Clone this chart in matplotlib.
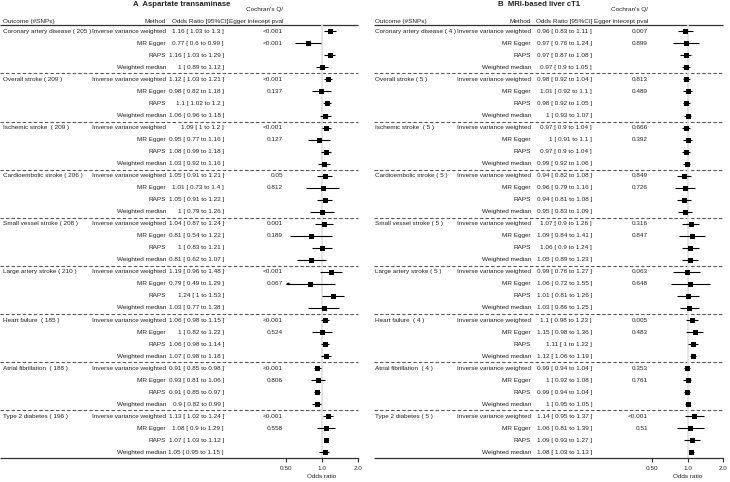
import matplotlib
matplotlib.use("Agg")
import matplotlib.pyplot as plt
import numpy as np

plt.rcParams['font.family'] = ['Liberation Sans', 'DejaVu Sans']

# ---- data ----
outcomes = ['Coronary artery disease', 'Overall stroke', 'Ischemic stroke ',
            'Cardioembolic stroke', 'Small vessel stroke', 'Large artery stroke',
            'Heart failure ', 'Atrial fibrillation ', 'Type 2 diabetes']
methods = ['Inverse variance weighted', 'MR Egger', 'RAPS', 'Weighted median']

titles = ['A  Aspartate transaminase', 'B  MRI-based liver cT1']

snps_a = [205, 209, 209, 206, 208, 210, 185, 188, 196]
or_a = [[1.16, 0.77, 1.16, 1], [1.12, 0.98, 1.1, 1.06], [1.09, 0.95, 1.08, 1.03],
        [1.05, 1.01, 1.05, 1], [1.04, 0.81, 1, 0.81], [1.19, 0.79, 1.24, 1.03],
        [1.06, 1, 1.06, 1.07], [0.91, 0.93, 0.91, 0.9], [1.13, 1.08, 1.07, 1.05]]
lo_a = [[1.03, 0.6, 1.03, 0.89], [1.03, 0.82, 1.02, 0.96], [1, 0.77, 0.99, 0.92],
        [0.91, 0.73, 0.91, 0.79], [0.87, 0.54, 0.83, 0.62], [0.96, 0.49, 1, 0.77],
        [0.98, 0.82, 0.98, 0.98], [0.85, 0.81, 0.85, 0.82], [1.02, 0.9, 1.03, 0.95]]
hi_a = [[1.3, 0.99, 1.29, 1.12], [1.21, 1.18, 1.2, 1.18], [1.2, 1.16, 1.18, 1.16],
        [1.21, 1.4, 1.22, 1.26], [1.24, 1.22, 1.21, 1.07], [1.48, 1.29, 1.53, 1.38],
        [1.15, 1.22, 1.14, 1.18], [0.98, 1.06, 0.97, 0.99], [1.24, 1.29, 1.12, 1.15]]
p_a = [['<0.001', '<0.001'], ['<0.001', '0.137'], ['<0.001', '0.127'],
       ['0.05', '0.812'], ['0.001', '0.189'], ['<0.001', '0.067'],
       ['<0.001', '0.524'], ['<0.001', '0.806'], ['<0.001', '0.558']]

snps_b = [4, 5, 5, 5, 5, 5, 4, 4, 5]
or_b = [[0.96, 0.97, 0.97, 0.97], [0.98, 1.01, 0.98, 1], [0.97, 1, 0.97, 0.99],
        [0.94, 0.96, 0.94, 0.95], [1.07, 1.09, 1.06, 1.05], [0.99, 1.06, 1.01, 1.03],
        [1.1, 1.15, 1.11, 1.12], [0.99, 1, 0.99, 1], [1.14, 1.06, 1.09, 1.08]]
lo_b = [[0.83, 0.76, 0.87, 0.9], [0.92, 0.92, 0.92, 0.93], [0.9, 0.91, 0.9, 0.92],
        [0.82, 0.79, 0.81, 0.83], [0.9, 0.84, 0.9, 0.89], [0.76, 0.72, 0.81, 0.86],
        [0.98, 0.98, 1, 1.06], [0.94, 0.92, 0.94, 0.95], [0.95, 0.81, 0.93, 1.03]]
hi_b = [[1.11, 1.24, 1.08, 1.05], [1.04, 1.1, 1.05, 1.07], [1.04, 1.1, 1.04, 1.06],
        [1.08, 1.16, 1.08, 1.09], [1.26, 1.41, 1.24, 1.23], [1.27, 1.55, 1.26, 1.25],
        [1.23, 1.36, 1.22, 1.19], [1.04, 1.08, 1.04, 1.05], [1.37, 1.39, 1.27, 1.13]]
p_b = [['0.007', '0.899'], ['0.813', '0.489'], ['0.666', '0.392'],
       ['0.849', '0.726'], ['0.316', '0.847'], ['0.063', '0.648'],
       ['0.005', '0.483'], ['0.353', '0.761'], ['<0.001', '0.51']]

x_ticks = [0.5, 1, 2]
x_ticklabels = ['0.50', '1.0', '2.0']

# ---- layout (pixels) ----
W, H = 730, 482
row0, step = 31.3, 12.03
nrow = len(outcomes) * len(methods)
ytop = row0 - step / 2
ybot = row0 + step * (nrow - 0.5)
bot = 1 - ybot / H
hgt = (ybot - ytop) / H

panels = [
    dict(title=titles[0], snps=snps_a, OR=or_a, lo=lo_a, hi=hi_a, p=p_a,
         x_out=3, x_meth=166, x_or=224, x_orh=228, x_p=283, x_title=133,
         x_left=0, x_ax0=286, x_ax1=358),
    dict(title=titles[1], snps=snps_b, OR=or_b, lo=lo_b, hi=hi_b, p=p_b,
         x_out=375, x_meth=531, x_or=592, x_orh=592, x_p=648, x_title=498,
         x_left=374, x_ax0=652, x_ax1=723),
]

fs = 4.6
tc = '#222222'
fig = plt.figure(figsize=(W / 100, H / 100), dpi=100)

tab = fig.add_axes([0, bot, 1, hgt])
tab.set_xlim(0, W)
tab.set_ylim(nrow - 0.5, -0.5)
tab.axis('off')


def fmt(v):
    return f'{v:g}'


for P in panels:
    # header
    tab.text(P['x_title'], -2.2, P['title'], fontsize=5.6, fontweight='bold',
             ha='left', va='center', color=tc)
    tab.text(P['x_p'], -1.85, "Cochran's Q/", fontsize=fs, ha='right', va='center', color=tc)
    tab.text(P['x_out'], -0.85, 'Outcome (#SNPs)', fontsize=fs, ha='left', va='center', color=tc)
    tab.text(P['x_meth'], -0.85, 'Method', fontsize=fs, ha='right', va='center', color=tc)
    tab.text(P['x_orh'], -0.85, 'Odds Ratio [95%CI]', fontsize=fs, ha='right', va='center', color=tc)
    tab.text(P['x_p'], -0.85, 'Egger intecept pval', fontsize=fs, ha='right', va='center', color=tc)

    # rules
    tab.hlines(-0.5, P['x_left'], P['x_ax1'], color='#333333', lw=0.9, clip_on=False)
    tab.hlines(nrow - 0.5, P['x_left'], P['x_ax0'], color='#333333', lw=0.9, clip_on=False)
    for g in range(1, len(outcomes)):
        tab.hlines(g * 4 - 0.5, P['x_left'], P['x_ax1'], color='#555555', lw=0.8,
                   linestyles=(0, (3, 2)), clip_on=False)

    # forest axes
    fx = fig.add_axes([P['x_ax0'] / W, bot, (P['x_ax1'] - P['x_ax0']) / W, hgt])
    fx.patch.set_alpha(0)
    fx.set_xscale('log')
    fx.set_xlim(x_ticks[0], x_ticks[-1])
    fx.set_ylim(nrow - 0.5, -0.5)
    for s in ['top', 'right', 'left']:
        fx.spines[s].set_visible(False)
    fx.spines['bottom'].set_color('#333333')
    fx.spines['bottom'].set_linewidth(0.9)
    fx.set_yticks([])
    fx.set_xticks(x_ticks)
    fx.set_xticklabels(x_ticklabels)
    fx.minorticks_off()
    fx.tick_params(axis='x', labelsize=fs, length=3, width=0.8, pad=2.5,
                   color='#333333', labelcolor=tc)
    fx.set_xlabel('Odds ratio', fontsize=fs, labelpad=2, color=tc)
    fx.axvline(1, color='#e3e3e3', lw=1.3, zorder=0)

    for gi, name in enumerate(outcomes):
        for mi, m in enumerate(methods):
            r = gi * 4 + mi
            if mi == 0:
                tab.text(P['x_out'], r, f"{name} ( {P['snps'][gi]} )", fontsize=fs,
                         ha='left', va='center', color=tc)
            tab.text(P['x_meth'], r, m, fontsize=fs, ha='right', va='center', color=tc)
            est, lo, hi = P['OR'][gi][mi], P['lo'][gi][mi], P['hi'][gi][mi]
            tab.text(P['x_or'], r, f"{fmt(est)} [ {fmt(lo)} to {fmt(hi)} ]", fontsize=fs,
                     ha='right', va='center', color=tc)
            if mi < 2:
                tab.text(P['x_p'], r, P['p'][gi][mi], fontsize=fs, ha='right',
                         va='center', color=tc)

            l, h = max(lo, x_ticks[0]), min(hi, x_ticks[-1])
            fx.hlines(r, l, h, color='black', lw=0.8)
            if lo < x_ticks[0]:
                fx.annotate('', xy=(x_ticks[0], r), xytext=(x_ticks[0] * 1.08, r),
                            arrowprops=dict(arrowstyle='-|>', color='black', lw=0.6,
                                            mutation_scale=3.5, shrinkA=0, shrinkB=0))
            fx.plot(est, r, marker='s', ms=3.6, color='black', mec='black', mew=0)

fig.savefig('out.png', dpi=100)
